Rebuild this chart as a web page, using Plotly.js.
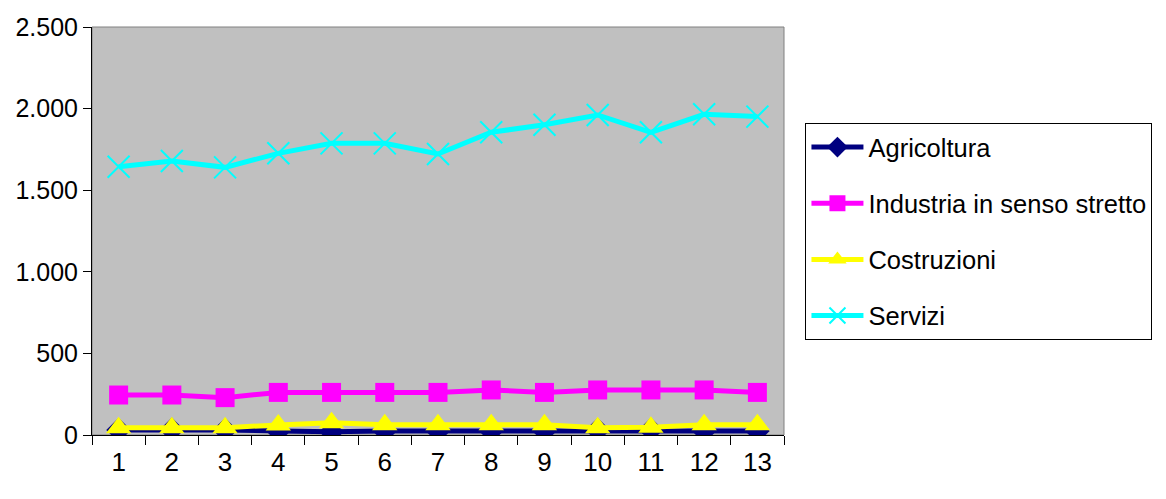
<!DOCTYPE html>
<html>
<head>
<meta charset="utf-8">
<script src="https://cdn.plot.ly/plotly-3.0.1.min.js"></script>
<style>
  html, body { margin: 0; padding: 0; background: #ffffff; }
  #chart { width: 1166px; height: 499px; }
</style>
</head>
<body>
<div id="chart"></div>
<script>
// Periods on the horizontal axis
const periods = ['1', '2', '3', '4', '5', '6', '7', '8', '9', '10', '11', '12', '13'];

// Values by sector
const agricoltura = [30, 32, 30, 25, 20, 25, 25, 25, 25, 30, 32, 25, 25];
const industria = [245, 245, 229, 261, 261, 261, 261, 276, 261, 276, 276, 276, 261];
const costruzioni = [45, 45, 45, 62, 75, 63, 63, 63, 63, 45, 47, 63, 63];
const servizi = [1644, 1679, 1640, 1726, 1787, 1787, 1722, 1855, 1901, 1961, 1855, 1965, 1951];

const FONT = '"Liberation Sans", Arial, sans-serif';

function series(name, values, color, symbol, size, extra) {
  return Object.assign({
    type: 'scatter',
    mode: 'lines+markers',
    name: name,
    x: periods,
    y: values,
    line: { color: color, width: 5 },
    marker: { color: color, symbol: symbol, size: size, line: { width: 0 } },
    legendgroup: name
  }, extra || {});
}

const traces = [
  series('Agricoltura', agricoltura, '#000080', 'diamond', 19),
  series('Industria in senso stretto', industria, '#FF00FF', 'square', 19),
  series('Costruzioni', costruzioni, '#FFFF00', 'triangle-up', 22),
  series('Servizi', servizi, '#00FFFF', 'x-thin-open', 22, {
    marker: { color: '#00FFFF', symbol: 'x-thin-open', size: 22, line: { color: '#00FFFF', width: 2 } }
  })
];

const layout = {
  width: 1166,
  height: 499,
  margin: { l: 92, r: 382, t: 27, b: 64, pad: 0, autoexpand: false },
  paper_bgcolor: '#ffffff',
  plot_bgcolor: '#C0C0C0',
  separators: ',.',
  font: { family: FONT, color: '#000000', size: 25 },
  showlegend: true,
  legend: {
    x: 1.031, xanchor: 'left',
    y: 0.7647, yanchor: 'top',
    bgcolor: '#ffffff',
    bordercolor: '#000000',
    borderwidth: 1,
    font: { family: FONT, size: 25.5, color: '#000000' },
    tracegroupgap: 20,
    itemwidth: 52
  },
  xaxis: {
    type: 'category',
    range: [-0.5, 12.5],
    showgrid: false,
    zeroline: false,
    showline: true,
    linecolor: '#000000',
    linewidth: 1,
    ticks: 'outside',
    tickson: 'boundaries',
    ticklen: 9,
    tickcolor: '#000000',
    tickfont: { family: FONT, size: 26 },
    ticklabelstandoff: 4,
    fixedrange: true
  },
  yaxis: {
    range: [0, 2500],
    dtick: 500,
    tickformat: ',d',
    showgrid: false,
    zeroline: false,
    showline: true,
    linecolor: '#000000',
    linewidth: 1,
    ticks: 'outside',
    ticklen: 8,
    tickcolor: '#000000',
    tickfont: { family: FONT, size: 25 },
    fixedrange: true
  },
  shapes: [{
    type: 'rect', xref: 'paper', yref: 'paper',
    x0: 0, x1: 1, y0: 0, y1: 1,
    line: { color: '#808080', width: 1 },
    layer: 'below'
  }]
};

Plotly.newPlot('chart', traces, layout, { displayModeBar: false, staticPlot: true });
</script>
</body>
</html>
